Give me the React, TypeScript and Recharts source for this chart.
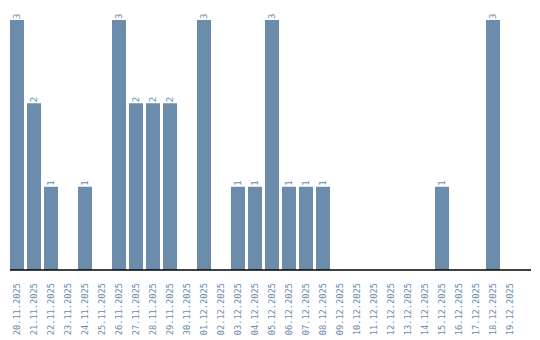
import React from "react";
import { BarChart, Bar, XAxis, YAxis, LabelList } from "recharts";

const categories = [
  "20.11.2025", "21.11.2025", "22.11.2025", "23.11.2025", "24.11.2025",
  "25.11.2025", "26.11.2025", "27.11.2025", "28.11.2025", "29.11.2025",
  "30.11.2025", "01.12.2025", "02.12.2025", "03.12.2025", "04.12.2025",
  "05.12.2025", "06.12.2025", "07.12.2025", "08.12.2025", "09.12.2025",
  "10.12.2025", "11.12.2025", "12.12.2025", "13.12.2025", "14.12.2025",
  "15.12.2025", "16.12.2025", "17.12.2025", "18.12.2025", "19.12.2025",
];
const counts = [3, 2, 1, 0, 1, 0, 3, 2, 2, 2, 0, 3, 0, 1, 1, 3, 1, 1, 1, 0, 0, 0, 0, 0, 0, 1, 0, 0, 3, 0];

const data = categories.map((c, i) => ({ date: c, value: counts[i] }));

const BAR = "#6b8cab";
const TXT = "#6a8cae";
const FONT = "'DejaVu Sans Mono', monospace";

const Tick = (props: any) => {
  const { x, y, payload } = props;
  return (
    <text
      x={x}
      y={y}
      transform={`rotate(-90, ${x}, ${y})`}
      textAnchor="end"
      dominantBaseline="central"
      fill={TXT}
      fontSize={8.7}
      fontFamily={FONT}
    >
      {payload.value}
    </text>
  );
};

const Label = (props: any) => {
  const { x, y, width, value } = props;
  if (!value) return null;
  const cx = x + width / 2;
  const ty = y - 1;
  return (
    <text
      x={cx}
      y={ty}
      transform={`rotate(-90, ${cx}, ${ty})`}
      textAnchor="start"
      dominantBaseline="central"
      fill={TXT}
      fontSize={9}
      fontFamily={FONT}
    >
      {value}
    </text>
  );
};

export default function App() {
  return (
    <BarChart
      width={532}
      height={332}
      data={data}
      margin={{ top: 2, right: 9, bottom: 0, left: 2 }}
      barCategoryGap={1.5}
    >
      <XAxis
        dataKey="date"
        interval={0}
        height={70}
        padding={{ left: -1.5, right: 12.5 }}
        tickLine={false}
        tickSize={0}
        tickMargin={13}
        axisLine={{ stroke: "#000", strokeWidth: 1.5 }}
        tick={<Tick />}
      />
      <YAxis
        width={0}
        domain={[0, 3.12]}
        tick={false}
        tickLine={false}
        axisLine={{ stroke: "#000", strokeWidth: 1.5 }}
      />
      <Bar dataKey="value" fill={BAR} isAnimationActive={false}>
        <LabelList dataKey="value" content={<Label />} />
      </Bar>
    </BarChart>
  );
}
